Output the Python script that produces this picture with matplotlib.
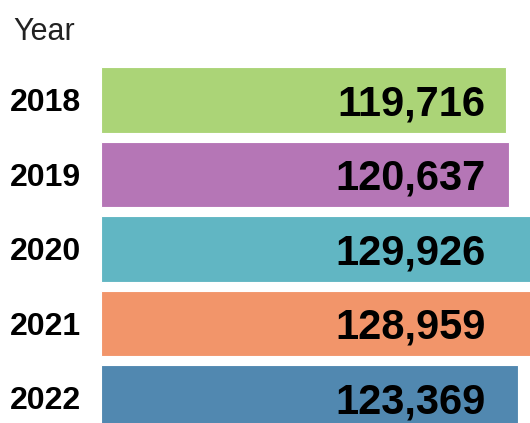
import matplotlib.pyplot as plt

# data
years = ["2018", "2019", "2020", "2021", "2022"]
values = [119716, 120637, 129926, 128959, 123369]
colors = ["#abd477", "#b576b6", "#61b6c3", "#f2956a", "#5188b0"]

plt.rcParams["font.family"] = ["Liberation Sans", "DejaVu Sans"]

fig = plt.figure(figsize=(5.3, 4.23), dpi=100)
ax = fig.add_axes([101 / 530, 0, 1 - 101 / 530, 1])

pos = list(range(len(years)))
ax.barh(pos, values, height=0.885, color=colors, edgecolor="white", linewidth=0.8)

# axis scale: bars start at 0, right edge cuts the longest bars
ax.set_xlim(0, 126850)
ax.set_ylim(4.336, -1.342)

ax.set_yticks(pos)
ax.set_yticklabels(years, fontsize=23, fontweight="bold")
ax.tick_params(axis="y", length=0, pad=14.5)
ax.set_xticks([])
for s in ax.spines.values():
    s.set_visible(False)

# value labels at a fixed spot inside the bars
for p, v in zip(pos, values):
    ax.text(0.897, p + 0.06, f"{v:,}", transform=ax.get_yaxis_transform(),
            ha="right", va="center", fontsize=30, fontweight="bold", color="black")

fig.text(13 / 530, 1 - 40 / 423, "Year", ha="left", va="baseline", fontsize=22,
         color="#222222")

fig.savefig("out.png", dpi=100)
